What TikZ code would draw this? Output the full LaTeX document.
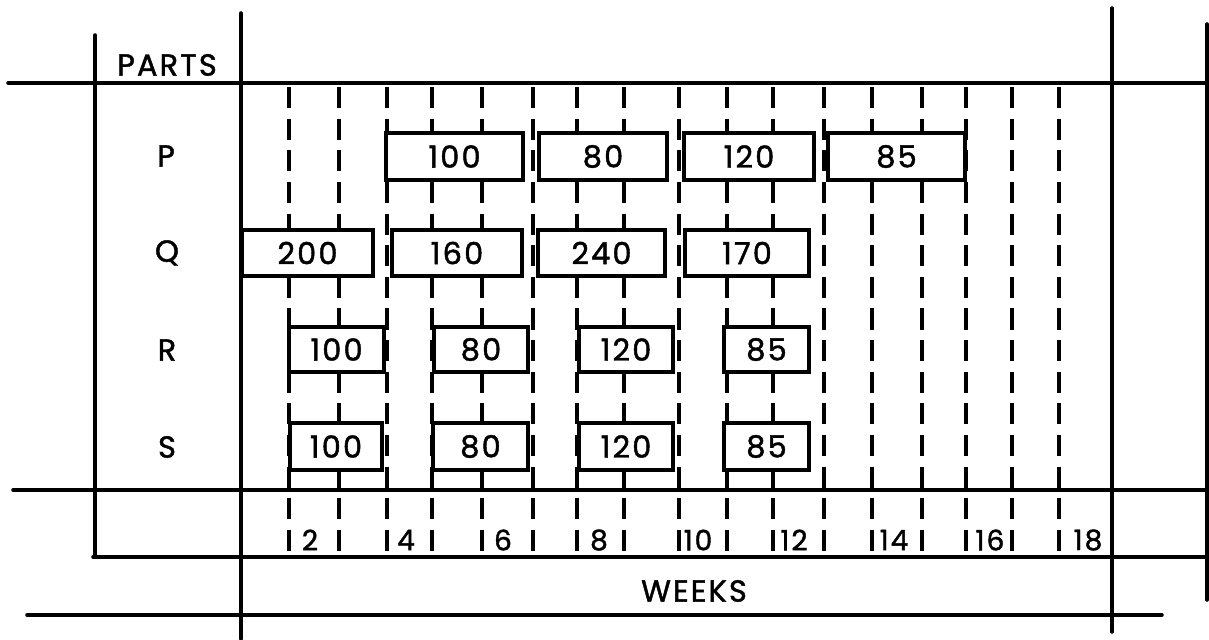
\documentclass[tikz,border=0pt]{standalone}
\usepackage{fontspec}
\setmainfont{Poppins}
\newfontfamily\chartfont{Poppins}[BoldFont={Poppins},BoldFeatures={FakeBold=1.4},LetterSpace=7]
\usepackage{tikz}
\newdimen\pxu
\pxu=0.03cm

\begin{document}
\begin{tikzpicture}[x=\pxu,y=-\pxu,
  rule/.style={line width=3pt,line cap=round},
  grid/.style={line width=2.8pt,dash pattern=on 18pt off 9pt},
  bar/.style={draw,fill=white,line width=3pt,inner sep=0pt,font=\fontsize{26}{30}\chartfont\bfseries},
  lbl/.style={inner sep=0pt,font=\fontsize{26}{30}\chartfont\bfseries},
  wk/.style={inner sep=0pt,font=\fontsize{24}{28}\chartfont\bfseries}]
\useasboundingbox (0,0) rectangle (1209,639);
\foreach \x in {289,339,387,432,482,533,577,624,679,727,773,824,872,922,966,1012,1059}
  \draw[grid] (\x,87) -- (\x,557);
\draw[rule] (8,83) -- (1209,83);
\draw[rule] (13,490) -- (1209,490);
\draw[rule] (93,557) -- (1209,557);
\draw[rule] (27,615) -- (1162,615);
\draw[rule] (95,35) -- (95,557);
\draw[rule] (241,13) -- (241,639);
\draw[rule] (1112,8) -- (1112,632);
\draw[rule] (1207,24) -- (1207,600);
\node[lbl] (parts) at (167,65) {PARTS};
\node[lbl] (partP) at (166,156) {P};
\node[lbl] (partQ) at (167,253) {Q};
\node[lbl] (partR) at (167,350) {R};
\node[lbl] (partS) at (167,447) {S};
\node[bar,minimum width=137\pxu,minimum height=47\pxu] (p1) at (454.5,156.5) {100};
\node[bar,minimum width=128\pxu,minimum height=47\pxu] (p2) at (603,156.5) {80};
\node[bar,minimum width=130\pxu,minimum height=47\pxu] (p3) at (749,156.5) {120};
\node[bar,minimum width=137\pxu,minimum height=47\pxu] (p4) at (896.5,156.5) {85};
\node[bar,minimum width=131\pxu,minimum height=46\pxu] (q1) at (307.5,253) {200};
\node[bar,minimum width=130\pxu,minimum height=46\pxu] (q2) at (457,253) {160};
\node[bar,minimum width=127\pxu,minimum height=46\pxu] (q3) at (601.5,253) {240};
\node[bar,minimum width=124\pxu,minimum height=46\pxu] (q4) at (747,253) {170};
\node[bar,minimum width=95\pxu,minimum height=45\pxu] (r1) at (336.5,349.5) {100};
\node[bar,minimum width=94\pxu,minimum height=45\pxu] (r2) at (481,349.5) {80};
\node[bar,minimum width=94\pxu,minimum height=45\pxu] (r3) at (626,349.5) {120};
\node[bar,minimum width=85\pxu,minimum height=45\pxu] (r4) at (766.5,349.5) {85};
\node[bar,minimum width=92\pxu,minimum height=47\pxu] (s1) at (336,446.5) {100};
\node[bar,minimum width=95\pxu,minimum height=47\pxu] (s2) at (480.5,446.5) {80};
\node[bar,minimum width=94\pxu,minimum height=47\pxu] (s3) at (626,446.5) {120};
\node[bar,minimum width=85\pxu,minimum height=47\pxu] (s4) at (766.5,446.5) {85};
\node[wk,fill=white] (w2) at (310,540) {2};
\node[wk,fill=white] (w4) at (406,540) {4};
\node[wk,fill=white] (w6) at (503,540) {6};
\node[wk,fill=white] (w8) at (599,540) {8};
\node[wk,fill=white] (w10) at (698,540) {10};
\node[wk,fill=white] (w12) at (794,540) {12};
\node[wk,fill=white] (w14) at (894,540) {14};
\node[wk,fill=white] (w16) at (990,540) {16};
\node[wk,fill=white] (w18) at (1088,540) {18};
\node[lbl] (weeks) at (694,591) {WEEKS};
\end{tikzpicture}
\end{document}
